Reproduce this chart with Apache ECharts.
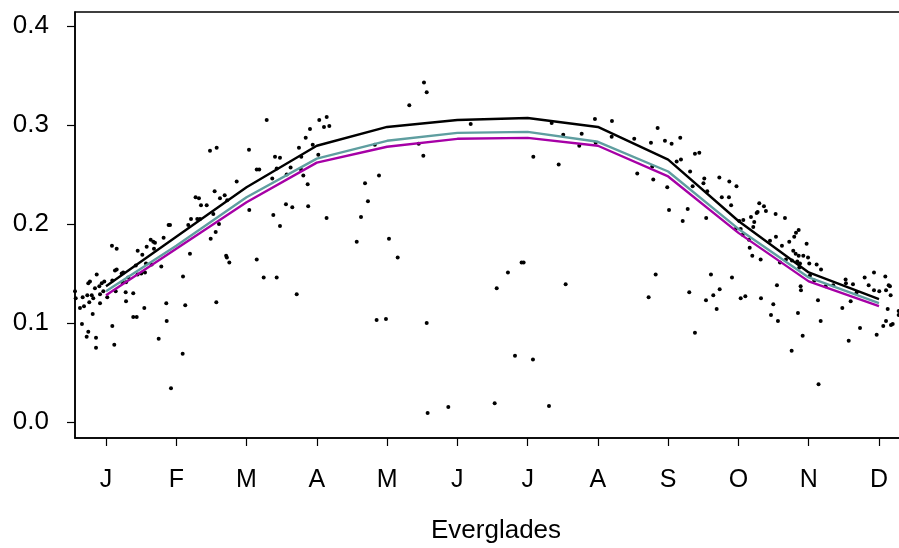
<!DOCTYPE html>
<html>
<head>
<meta charset="utf-8">
<script src="https://cdn.jsdelivr.net/npm/echarts@6/dist/echarts.min.js"></script>
<style>html,body{margin:0;padding:0;background:#fff}#c{width:899px;height:548px}</style>
</head>
<body>
<div id="c"></div>
<script>
// Month positions (1 = Jan ... 12 = Dec) and tick labels
const monthPos = [1,2,3,4,5,6,7,8,9,10,11,12];
const monthLabels = ['J','F','M','A','M','J','J','A','S','O','N','D'];
const yTicks = [0, 0.1, 0.2, 0.3, 0.4];
const xTitle = 'Everglades';

// Fitted seasonal curves (value at each month)
const curveBlack   = [0.137,0.187,0.237,0.279,0.298,0.305,0.307,0.298,0.265,0.203,0.151,0.124];
const curveTeal    = [0.132,0.178,0.227,0.266,0.284,0.292,0.293,0.283,0.253,0.195,0.146,0.120];
const curveMagenta = [0.128,0.175,0.222,0.262,0.278,0.286,0.287,0.279,0.248,0.191,0.142,0.117];

// Observations [month (fractional), value]
const obs = [
[0.559,0.132],[0.569,0.125],[0.630,0.115],[0.668,0.126],[0.687,0.117],[0.734,0.128],[0.762,0.121],[0.748,0.140],
[0.772,0.142],[0.797,0.128],[0.819,0.125],[0.868,0.149],[0.843,0.135],[0.905,0.137],[0.939,0.140],[0.915,0.120],
[0.976,0.142],[0.811,0.109],[0.658,0.099],[0.748,0.091],[0.725,0.086],[0.858,0.085],[0.858,0.075],[0.962,0.132],
[0.915,0.129],[1.018,0.126],[1.085,0.178],[1.152,0.175],[1.090,0.143],[1.128,0.153],[1.152,0.154],[1.246,0.151],
[1.285,0.141],[1.285,0.122],[1.317,0.146],[1.388,0.130],[1.388,0.106],[1.437,0.106],[1.545,0.115],[1.090,0.097],
[1.118,0.078],[1.750,0.084],[1.864,0.102],[1.858,0.120],[1.787,0.157],[2.128,0.118],[2.096,0.147],[2.091,0.069],
[2.195,0.170],[2.570,0.121],[2.710,0.168],[2.720,0.166],[2.755,0.161],[3.145,0.164],[3.244,0.146],[3.429,0.146],
[3.381,0.209],[3.476,0.198],[3.561,0.220],[3.651,0.217],[3.714,0.129],[3.039,0.214],[1.925,0.034],
[3.287,0.305],[2.480,0.274],[2.575,0.277],[3.035,0.275],[3.405,0.268],[3.476,0.267],[4.035,0.305],[4.141,0.308],
[4.178,0.299],[3.903,0.296],[3.842,0.287],[3.942,0.280],[3.746,0.277],[3.779,0.268],[4.021,0.270],[3.145,0.255],
[3.181,0.255],[3.429,0.256],[3.366,0.246],[3.627,0.257],[3.571,0.250],[3.775,0.255],[3.808,0.249],[2.860,0.243],
[3.870,0.240],[2.546,0.233],[2.689,0.229],[2.622,0.226],[2.725,0.224],[2.275,0.227],[2.323,0.226],[2.352,0.219],
[2.433,0.219],[2.210,0.205],[2.299,0.205],[2.338,0.205],[2.527,0.210],[1.891,0.199],[1.911,0.199],[2.171,0.199],
[2.608,0.200],[2.561,0.192],[2.490,0.185],[3.877,0.218],[4.139,0.206],[1.820,0.186],[1.636,0.184],[1.673,0.182],
[1.697,0.181],[1.579,0.177],[1.683,0.175],[1.451,0.173],[1.517,0.169],[1.424,0.158],[1.569,0.160],[1.650,0.159],
[1.223,0.150],[1.232,0.141],[1.450,0.149],[1.502,0.150],[1.555,0.151],[1.138,0.132],[1.280,0.131],
[4.102,0.298],[4.826,0.280],[4.885,0.249],[5.316,0.320],[5.525,0.343],[5.564,0.333],[5.450,0.281],[5.516,0.269],
[6.190,0.301],[7.081,0.268],[7.442,0.260],[7.342,0.302],[7.507,0.290],[7.769,0.291],[7.735,0.279],[7.958,0.306],
[7.968,0.282],[4.686,0.241],[4.728,0.223],[4.629,0.207],[4.568,0.182],[5.027,0.185],[5.151,0.166],[4.851,0.103],
[4.984,0.104],[5.564,0.100],[6.914,0.161],[6.943,0.161],[6.720,0.151],[6.560,0.135],[7.541,0.139],[6.820,0.067],
[7.076,0.063],[5.577,0.009],[5.871,0.015],[6.531,0.019],[7.304,0.016],
[8.200,0.304],[8.196,0.288],[8.517,0.286],[8.755,0.282],[8.850,0.297],[8.954,0.284],[9.049,0.281],[9.172,0.287],
[9.381,0.271],[9.443,0.272],[9.121,0.263],[9.182,0.265],[8.774,0.258],[9.312,0.253],[8.560,0.251],[8.788,0.245],
[9.514,0.246],[9.728,0.247],[8.987,0.237],[9.012,0.214],[9.278,0.215],[9.207,0.203],[9.541,0.206],[9.502,0.241],
[9.870,0.243],[9.972,0.238],[9.556,0.233],[9.763,0.227],[9.865,0.227],[9.896,0.219],[9.961,0.195],[10.032,0.195],
[10.012,0.203],[10.069,0.204],[10.061,0.189],[10.150,0.184],[10.160,0.176],[10.197,0.168],[10.316,0.164],[10.178,0.207],
[10.225,0.202],[10.211,0.197],[10.259,0.211],[10.273,0.212],[10.296,0.221],[10.363,0.218],[10.391,0.213],[10.529,0.210],
[10.662,0.206],[10.449,0.183],[10.534,0.187],[10.619,0.178],[10.723,0.182],[10.794,0.187],[10.819,0.191],[10.857,0.194],
[10.780,0.173],[10.814,0.170],[10.857,0.168],[10.923,0.168],[10.990,0.166],[10.676,0.164],[10.761,0.163],[10.837,0.162],
[10.876,0.160],[10.591,0.161],[10.970,0.180],[11.008,0.160],[10.866,0.156],[11.113,0.159],[11.018,0.148],[11.079,0.143],
[11.175,0.154],[10.885,0.137],[10.890,0.133],[10.548,0.138],[11.240,0.137],[11.349,0.138],[11.525,0.144],[11.530,0.140],
[11.630,0.139],[11.683,0.131],[11.597,0.122],[11.796,0.146],[11.853,0.138],[11.929,0.151],[11.929,0.133],[12.004,0.132],
[12.090,0.147],[12.138,0.138],[12.156,0.137],[12.166,0.128],[12.100,0.133],[12.124,0.114],[12.280,0.112],[12.280,0.108],
[12.100,0.102],[12.061,0.097],[12.171,0.098],[12.195,0.099],[11.967,0.088],[11.730,0.095],[11.569,0.082],[11.478,0.115],
[11.132,0.123],[11.170,0.102],[10.847,0.110],[10.914,0.087],[10.757,0.072],[10.562,0.102],[10.463,0.108],[10.496,0.119],
[10.321,0.125],[10.098,0.127],[10.032,0.125],[9.908,0.146],[9.733,0.134],[9.642,0.128],[9.690,0.114],[9.538,0.123],
[9.609,0.149],[9.300,0.131],[9.381,0.090],[8.822,0.149],[8.722,0.126],[11.140,0.038],[9.348,0.238]
];

const font = 'Liberation Sans, Arial, Helvetica, sans-serif';
const pair = (vals) => monthPos.map((m, i) => [m, vals[i]]);

const chart = echarts.init(document.getElementById('c'), null, {renderer: 'canvas'});
chart.setOption({
  animation: false,
  backgroundColor: '#ffffff',
  title: {
    text: xTitle, left: 431, top: 518, padding: 0,
    textStyle: {fontFamily: font, fontSize: 26, fontWeight: 'normal', color: '#000'}
  },
  grid: {left: 75, top: 12, width: 864, height: 426, outerBoundsMode: 'none', containLabel: false,
         show: true, borderColor: '#000', borderWidth: 1.5, backgroundColor: 'transparent'},
  xAxis: {
    type: 'value', min: 0.559, max: 12.854,
    splitLine: {show: false},
    axisLine: {show: true, onZero: false, lineStyle: {color: '#000', width: 1.5}},
    axisTick: {show: true, inside: false, length: 8, lineStyle: {color: '#000', width: 1.2}, customValues: monthPos},
    axisLabel: {
      customValues: monthPos, margin: 30, color: '#000', fontFamily: font, fontSize: 25,
      formatter: (v) => monthLabels[Math.round(v) - 1] || ''
    }
  },
  yAxis: {
    type: 'value', min: -0.0162, max: 0.4141,
    splitLine: {show: false},
    axisLine: {show: true, onZero: false, lineStyle: {color: '#000', width: 1.5}},
    axisTick: {show: true, inside: false, length: 8, lineStyle: {color: '#000', width: 1.2}, customValues: yTicks},
    axisLabel: {
      customValues: yTicks, margin: 26, color: '#000', fontFamily: font, fontSize: 26,
      formatter: (v) => v.toFixed(1)
    }
  },
  series: [
    {type: 'scatter', data: obs, symbol: 'circle', symbolSize: 4, itemStyle: {color: '#000', opacity: 1}, z: 2},
    {type: 'line', data: pair(curveBlack), symbol: 'none', lineStyle: {color: '#000000', width: 2.4}, z: 3},
    {type: 'line', data: pair(curveTeal), symbol: 'none', lineStyle: {color: '#5f9ea0', width: 2.4}, z: 3},
    {type: 'line', data: pair(curveMagenta), symbol: 'none', lineStyle: {color: '#a600a6', width: 2.4}, z: 3}
  ]
});
</script>
</body>
</html>
